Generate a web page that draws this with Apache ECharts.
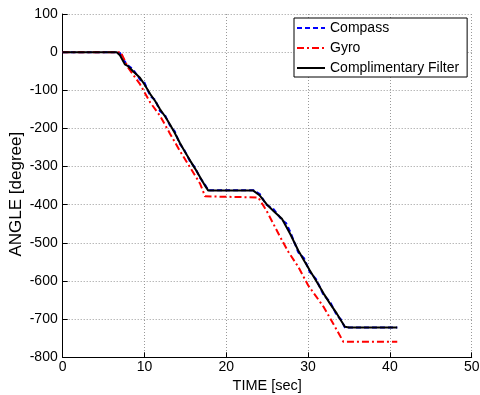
<!DOCTYPE html>
<html>
<head>
<meta charset="utf-8">
<script src="https://cdn.jsdelivr.net/npm/echarts@6/dist/echarts.min.js"></script>
<style>
html,body{margin:0;padding:0;background:#fff;}
#c{width:480px;height:395px;}
</style>
</head>
<body>
<div id="c"></div>
<script>
const seriesNames = ['Compass', 'Gyro', 'Complimentary Filter'];

const compassT = [0, 6.6, 7.0, 7.6, 8.0, 8.6, 9.45, 10.0, 10.7, 11.3, 11.9, 12.5, 13.1, 13.7, 14.3, 14.9, 15.6, 16.2, 16.8, 17.4, 17.8, 23.3, 24.1, 24.9, 25.8, 26.8, 27.3, 27.8, 28.8, 29.5, 30.2, 31.0, 31.9, 32.7, 33.5, 34.0, 34.5, 40.9];
const compassV = [0, 0, -2, -25, -35, -45, -72, -80, -115, -125, -155, -165, -192, -208, -240, -258, -288, -303, -330, -348, -362, -362, -372, -400, -412, -440, -448, -470, -525, -540, -576, -596, -637, -655, -690, -700, -722, -722];

const gyroT = [0, 6.6, 6.8, 7.1, 8.0, 9.45, 10.7, 11.9, 13.1, 14.3, 15.6, 16.8, 17.4, 17.6, 23.9, 24.9, 26.6, 27.6, 28.8, 30.0, 31.9, 33.5, 34.3, 40.9];
const gyroV = [0, 0, 3, 0, -41, -84, -132, -167, -213, -258, -303, -345, -378, -381, -381, -415, -485, -524, -563, -611, -668, -728, -759, -759];

const filterT = [0, 6.6, 7.0, 7.6, 8.0, 8.6, 9.45, 10.0, 10.7, 11.3, 11.9, 12.5, 13.1, 13.7, 14.3, 14.9, 15.6, 16.2, 16.8, 17.4, 17.8, 23.3, 24.1, 24.9, 25.8, 26.8, 27.8, 28.8, 29.5, 30.2, 31.0, 31.9, 32.7, 33.5, 34.0, 34.5, 35.0, 40.9];
const filterV = [0, 0, -8, -32, -37, -50, -67, -85, -110, -128, -150, -168, -189, -212, -237, -260, -285, -306, -328, -350, -363, -363, -376, -398, -417, -437, -476, -520, -546, -572, -600, -633, -660, -685, -703, -720, -722, -722];

const xTicks = [0, 10, 20, 30, 40, 50];
const yTicks = [-800, -700, -600, -500, -400, -300, -200, -100, 0, 100];

function pairs(t, v) { return t.map((x, i) => [x, v[i]]); }

const font = 'Liberation Sans, Arial, sans-serif';
const chart = echarts.init(document.getElementById('c'), null, {renderer: 'canvas'});
chart.setOption({
  backgroundColor: '#fff',
  animation: false,
  grid: {left: 62.7, top: 14, right: 8.3, bottom: 37.7, containLabel: false, outerBoundsMode: 'none'},
  legend: {
    orient: 'vertical',
    left: 294, top: 18,
    padding: [3, 8, 2, 2],
    itemGap: 6,
    itemWidth: 28, itemHeight: 14,
    backgroundColor: '#fff',
    borderColor: '#000', borderWidth: 1,
    itemStyle: {opacity: 0, borderWidth: 0},
    textStyle: {fontFamily: font, fontSize: 14, color: '#000'},
    data: seriesNames
  },
  xAxis: {
    type: 'value', min: xTicks[0], max: xTicks[xTicks.length - 1], interval: 10,
    name: 'TIME [sec]', nameLocation: 'middle', nameGap: 21, nameMoveOverlap: false,
    nameTextStyle: {fontFamily: font, fontSize: 14.5, color: '#000'},
    axisLine: {onZero: false, lineStyle: {color: '#000', width: 1}},
    axisTick: {inside: true, length: 5, lineStyle: {color: '#000'}},
    axisLabel: {fontFamily: font, fontSize: 14, color: '#000', margin: 3},
    splitLine: {show: true, lineStyle: {color: '#999', type: [1, 2], width: 1}}
  },
  yAxis: {
    type: 'value', min: yTicks[0], max: yTicks[yTicks.length - 1], interval: 100,
    name: 'ANGLE [degree]', nameLocation: 'middle', nameGap: 38, nameRotate: 90, nameMoveOverlap: false,
    nameTextStyle: {fontFamily: font, fontSize: 17, color: '#000', padding: [0, 17, 0, 0]},
    axisLine: {show: true, onZero: false, lineStyle: {color: '#000', width: 1}},
    axisTick: {show: true, inside: true, length: 5, lineStyle: {color: '#000'}},
    axisLabel: {fontFamily: font, fontSize: 14, color: '#000', margin: 5},
    splitLine: {show: true, lineStyle: {color: '#999', type: [1, 2], width: 1}}
  },
  series: [
    {name: seriesNames[0], type: 'line', symbol: 'none', data: pairs(compassT, compassV),
     lineStyle: {color: '#0000ff', width: 2, type: [5, 3]}, itemStyle: {color: '#0000ff'}},
    {name: seriesNames[1], type: 'line', symbol: 'none', data: pairs(gyroT, gyroV),
     lineStyle: {color: '#ff0000', width: 2, type: [7, 3, 2, 3]}, itemStyle: {color: '#ff0000'}},
    {name: seriesNames[2], type: 'line', symbol: 'none', data: pairs(filterT, filterV),
     lineStyle: {color: '#000000', width: 2, type: 'solid'}, itemStyle: {color: '#000'}}
  ]
});
</script>
</body>
</html>
